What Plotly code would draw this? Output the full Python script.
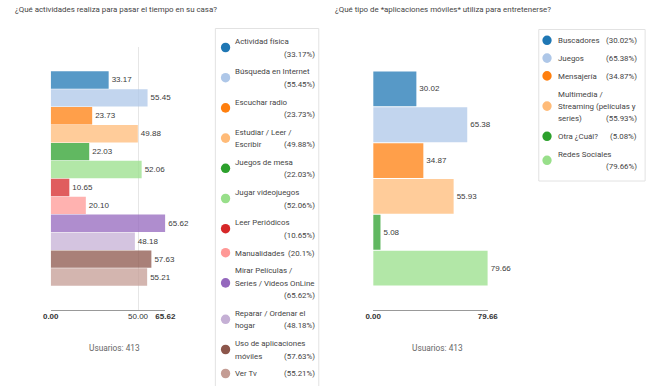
import plotly.graph_objects as go

W, H = 660, 386

# ---------------- data ----------------
left_title = "¿Qué actividades realiza para pasar el tiempo en su casa?"
left_cats = ["Actividad física", "Búsqueda en Internet", "Escuchar radio",
             "Estudiar / Leer / Escribir", "Juegos de mesa", "Jugar videojuegos",
             "Leer Periódicos", "Manualidades", "Mirar Películas / Series / Videos OnLine",
             "Reparar / Ordenar el hogar", "Uso de aplicaciones móviles", "Ver Tv"]
left_vals = [33.17, 55.45, 23.73, 49.88, 22.03, 52.06, 10.65, 20.10, 65.62, 48.18, 57.63, 55.21]
left_pct_labels = ["33.17%", "55.45%", "23.73%", "49.88%", "22.03%", "52.06%",
                   "10.65%", "20.1%", "65.62%", "48.18%", "57.63%", "55.21%"]
# wrapped legend lines; the last entry shares its line with the percentage
left_legend_lines = [["Actividad física", ""], ["Búsqueda en Internet", ""],
                     ["Escuchar radio", ""], ["Estudiar / Leer /", "Escribir"],
                     ["Juegos de mesa", ""], ["Jugar videojuegos", ""],
                     ["Leer Periódicos", ""], ["Manualidades"],
                     ["Mirar Películas /", "Series / Videos OnLine", ""],
                     ["Reparar / Ordenar el", "hogar"], ["Uso de aplicaciones", "móviles"],
                     ["Ver Tv"]]
left_ticks = [0, 50, 65.62]
left_ticktext = ["<b>0.00</b>", "50.00", "<b>65.62</b>"]

right_title = "¿Qué tipo de *aplicaciones móviles* utiliza para entretenerse?"
right_cats = ["Buscadores", "Juegos", "Mensajería",
              "Multimedia / Streaming (películas y series)", "Otra ¿Cuál?", "Redes Sociales"]
right_vals = [30.02, 65.38, 34.87, 55.93, 5.08, 79.66]
right_pct_labels = ["30.02%", "65.38%", "34.87%", "55.93%", "5.08%", "79.66%"]
right_legend_lines = [["Buscadores"], ["Juegos"], ["Mensajería"],
                      ["Multimedia /", "Streaming (películas y", "series)"],
                      ["Otra ¿Cuál?"], ["Redes Sociales", ""]]
right_ticks = [0, 79.66]
right_ticktext = ["<b>0.00</b>", "<b>79.66</b>"]

users_text = "Usuarios: 413"

palette = ["#1f77b4", "#aec7e8", "#ff7f0e", "#ffbb78", "#2ca02c", "#98df8a",
           "#d62728", "#ff9896", "#9467bd", "#c5b0d5", "#8c564b", "#c49c94"]

# ---------------- helpers ----------------
def px(x):
    return x / W

def py(y):
    return 1 - y / H

FONT = "Roboto"
NUMFONT = "Liberation Sans"
LEG_SIZE = 7.9

fig = go.Figure()

plot_top, plot_bot = 47, 310
bar_top, bar_bot = 71, 286

fig.add_trace(go.Bar(
    x=left_vals, y=list(range(len(left_vals))), orientation="h",
    marker=dict(color=palette[:len(left_vals)], opacity=0.75, line=dict(width=0)),
    text=[f"{v:.2f}" for v in left_vals], textposition="outside",
    textfont=dict(family=NUMFONT, size=8, color="#3a3a3a"),
    cliponaxis=False, xaxis="x", yaxis="y", showlegend=False, hoverinfo="skip"))
fig.add_trace(go.Bar(
    x=right_vals, y=list(range(len(right_vals))), orientation="h",
    marker=dict(color=palette[:len(right_vals)], opacity=0.75, line=dict(width=0)),
    text=[f"{v:.2f}" for v in right_vals], textposition="outside",
    textfont=dict(family=NUMFONT, size=8, color="#3a3a3a"),
    cliponaxis=False, xaxis="x2", yaxis="y2", showlegend=False, hoverinfo="skip"))

def yrange(n):
    slot = (bar_bot - bar_top) / n
    off = (bar_top + slot / 2 - plot_top) / slot
    return [n - 1 + off, -off]

xcommon = dict(showgrid=True, gridcolor="#e6e6e6", gridwidth=1, zeroline=False,
               showline=True, linecolor="#999", linewidth=1, ticks="",
               ticklabelstandoff=-2,
               tickfont=dict(family=NUMFONT, size=8, color="#333"), fixedrange=True)
ycommon = dict(showticklabels=False, showgrid=False, zeroline=False, showline=False,
               ticks="", fixedrange=True)

nL, nR = len(left_vals), len(right_vals)

fig.update_layout(
    width=W, height=H, margin=dict(l=0, r=0, t=0, b=0),
    paper_bgcolor="white", plot_bgcolor="white", bargap=0.03,
    xaxis=dict(domain=[px(44), px(162)], range=[0, max(left_vals)],
               tickvals=left_ticks, ticktext=left_ticktext, **xcommon),
    yaxis=dict(domain=[py(plot_bot), py(plot_top)], range=yrange(nL), anchor="x", **ycommon),
    xaxis2=dict(domain=[px(376), px(494)], range=[0, max(right_vals)],
                tickvals=right_ticks, ticktext=right_ticktext, anchor="y2", **xcommon),
    yaxis2=dict(domain=[py(plot_bot), py(plot_top)], range=yrange(nR), anchor="x2", **ycommon),
)

annotations = []
shapes = []

def add_text(x, y, text, anchor="left", size=LEG_SIZE, color="#444", family=FONT):
    annotations.append(dict(xref="paper", yref="paper", x=px(x), y=py(y), text=text,
                            showarrow=False, xanchor=anchor, yanchor="middle",
                            borderpad=0, borderwidth=0,
                            font=dict(family=family, size=size, color=color)))

# titles
add_text(7, 10, left_title, size=7.9, color="#444")
add_text(337, 10, right_title, size=7.9, color="#444")
# users
add_text(110, 348, users_text, anchor="center", size=8.3, color="#666")
add_text(442, 348, users_text, anchor="center", size=8.3, color="#666")

def legend(lines_list, pcts, colors, y0, text_x, pct_right, circ_x, box):
    lh, gap = 12.4, 5.4
    y = y0
    for lines, pct, col in zip(lines_list, pcts, colors):
        for i, ln in enumerate(lines):
            yy = y + i * lh
            if ln:
                add_text(text_x, yy, ln)
            if i == len(lines) - 1:
                add_text(pct_right, yy, f"({pct})", anchor="right")
        cy = y + (len(lines) - 1) * lh / 2 - 0.4
        r = 4.8
        shapes.append(dict(type="circle", xref="paper", yref="paper",
                           x0=px(circ_x - r), x1=px(circ_x + r),
                           y0=py(cy + r), y1=py(cy - r),
                           fillcolor=col, line=dict(width=0)))
        y += len(lines) * lh + gap
    bx0, by0, bx1, by1 = box
    shapes.append(dict(type="rect", xref="paper", yref="paper",
                       x0=px(bx0), x1=px(bx1), y0=py(by1), y1=py(by0),
                       line=dict(color="#e2e2e2", width=1), fillcolor="rgba(0,0,0,0)"))

legend(left_legend_lines, left_pct_labels, palette, 41.7, 234, 316, 224,
       (213.5, 28.5, 320, 400))
legend(right_legend_lines, right_pct_labels, palette, 40.7, 566, 648, 555,
       (546.5, 29.5, 656, 181))

fig.update_layout(annotations=annotations, shapes=shapes)
fig.write_html("out.html", config={"displayModeBar": False},
               post_script="document.body.style.margin='0';document.body.style.overflow='hidden';")
